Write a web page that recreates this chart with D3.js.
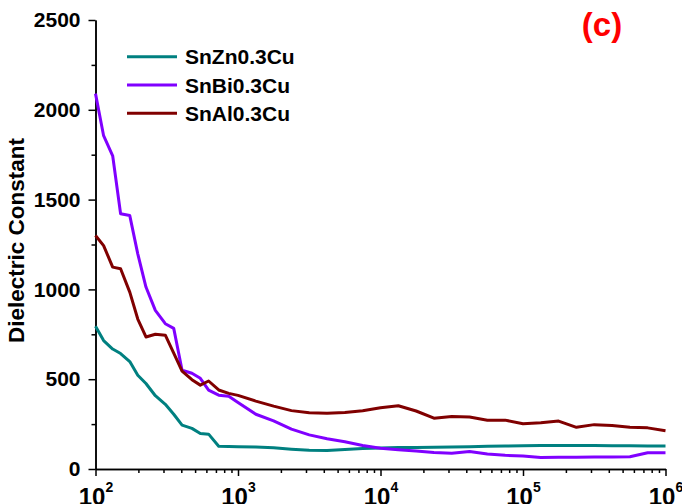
<!DOCTYPE html>
<html>
<head>
<meta charset="utf-8">
<script src="https://cdn.jsdelivr.net/npm/d3@7"></script>
<style>
  body { margin: 0; background: #fff; }
  text { font-family: "Liberation Sans", Arial, sans-serif; font-weight: bold; }
  .axis path, .axis line { stroke: #000; stroke-width: 1.5px; }
  .line { fill: none; stroke-width: 3px; stroke-linejoin: round; }
</style>
</head>
<body>
<svg width="682" height="504"></svg>
<script>
// frequency (Hz)
var freq = [100, 114, 132, 150, 174, 198, 226, 263, 309, 354, 405, 475, 544, 622, 732, 861, 1000,
  1334, 1778, 2371, 3162, 4217, 5623, 7499, 10000, 13335, 17783, 23714, 31623, 42170, 56234, 74989,
  100000, 133352, 177828, 237137, 316228, 421697, 562341, 749894, 1000000];

var snZn = [795, 715, 668, 643, 598, 522, 476, 408, 360, 305, 244, 226, 198, 194, 127, 125, 124,
  122, 118, 110, 104, 103, 108, 114, 117, 120, 120, 121, 123, 124, 126, 128,
  130, 131, 131, 131, 131, 130, 129, 128, 128];

var snBi = [2090, 1856, 1744, 1421, 1411, 1198, 1013, 883, 809, 783, 550, 533, 505, 439, 411, 405, 370,
  305, 268, 222, 190, 168, 152, 131, 115, 107, 100, 92, 88, 97, 83, 76,
  72, 64, 65, 66, 67, 67, 68, 90, 91];

var snAl = [1300, 1244, 1124, 1115, 985, 835, 735, 750, 745, 645, 545, 497, 467, 490, 440, 421, 410,
  378, 350, 325, 313, 311, 315, 324, 341, 352, 323, 283, 292, 289, 272, 272,
  252, 258, 267, 232, 247, 242, 232, 229, 213];

var seriesNames = ["SnZn0.3Cu", "SnBi0.3Cu", "SnAl0.3Cu"];
var seriesColors = ["#008080", "#8000ff", "#800000"];

var yTicks = [0, 500, 1000, 1500, 2000, 2500];
var yMinor = [250, 750, 1250, 1750, 2250];
var xExps = [2, 3, 4, 5, 6];

var svg = d3.select("svg"),
    margin = {top: 20, right: 16.5, bottom: 35, left: 95.5},
    width = +svg.attr("width") - margin.left - margin.right,
    height = +svg.attr("height") - margin.top - margin.bottom,
    g = svg.append("g").attr("transform", "translate(" + margin.left + "," + margin.top + ")");

var x = d3.scaleLog().domain([1e2, 1e6]).range([0, width]),
    y = d3.scaleLinear().domain([0, 2500]).range([height, 0]);

var line = d3.line()
    .x(function(d) { return x(d.f); })
    .y(function(d) { return y(d.v); });

var series = [snZn, snBi, snAl].map(function(vals, i) {
  return {
    id: seriesNames[i],
    color: seriesColors[i],
    values: vals.map(function(v, j) { return {f: freq[j], v: v}; })
  };
});

// minor x ticks: 2..9 in each decade
var xMinor = [];
xExps.slice(0, -1).forEach(function(e) {
  for (var m = 2; m <= 9; m++) xMinor.push(m * Math.pow(10, e));
});

g.append("g")
    .attr("class", "axis")
    .attr("transform", "translate(0," + height + ")")
    .call(d3.axisBottom(x).tickValues(xMinor).tickSize(4).tickSizeOuter(0).tickFormat(""));

var xAxis = g.append("g")
    .attr("class", "axis axis--x")
    .attr("transform", "translate(0," + height + ")")
    .call(d3.axisBottom(x).tickValues(xExps.map(function(e) { return Math.pow(10, e); }))
      .tickSize(7).tickSizeOuter(0).tickFormat(""));

xAxis.selectAll(".tick").append("text")
    .attr("y", 36)
    .attr("fill", "#000")
    .attr("text-anchor", "middle")
    .style("font-size", "24px")
    .each(function(d, i) {
      var t = d3.select(this);
      t.append("tspan").text("10");
      t.append("tspan").attr("dy", -13).style("font-size", "14px").text(xExps[i]);
    });

g.append("g")
    .attr("class", "axis")
    .call(d3.axisLeft(y).tickValues(yMinor).tickSize(4).tickSizeOuter(0).tickFormat(""));

g.append("g")
    .attr("class", "axis axis--y")
    .call(d3.axisLeft(y).tickValues(yTicks).tickSize(7).tickSizeOuter(0).tickPadding(8)
      .tickFormat(d3.format("d")))
  .selectAll(".tick text")
    .attr("fill", "#000")
    .style("font-size", "21px")
    .style("font-family", "'Liberation Sans', Arial, sans-serif");

svg.append("text")
    .attr("transform", "translate(24," + (margin.top + height / 2 - 4) + ") rotate(-90)")
    .attr("text-anchor", "middle")
    .style("font-size", "22.5px")
    .text("Dielectric Constant");

g.selectAll(".series")
  .data(series)
  .enter().append("path")
    .attr("class", "line")
    .attr("d", function(d) { return line(d.values); })
    .style("stroke", function(d) { return d.color; });

// legend
var legend = svg.selectAll(".legend")
  .data(series)
  .enter().append("g")
    .attr("class", "legend")
    .attr("transform", function(d, i) { return "translate(127," + (56.7 + i * 28.3) + ")"; });

legend.append("line")
    .attr("x1", 0).attr("x2", 50)
    .style("stroke", function(d) { return d.color; })
    .style("stroke-width", "3px");

legend.append("text")
    .attr("x", 58)
    .attr("dy", "0.36em")
    .style("font-size", "21px")
    .text(function(d) { return d.id; });

svg.append("text")
    .attr("x", 602)
    .attr("y", 36)
    .attr("text-anchor", "middle")
    .attr("fill", "#ff0000")
    .style("font-size", "33px")
    .text("(c)");
</script>
</body>
</html>
